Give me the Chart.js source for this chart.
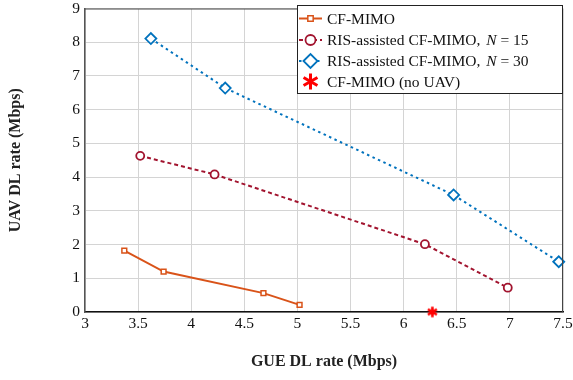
<!DOCTYPE html>
<html>
<head>
<meta charset="utf-8">
<script src="https://cdn.jsdelivr.net/npm/chart.js@4/dist/chart.umd.min.js"></script>
<style>
  html, body { margin: 0; padding: 0; background: #fff; }
  #wrap { width: 573px; height: 380px; position: relative; }
</style>
</head>
<body>
<div id="wrap"><canvas id="c" width="573" height="380"></canvas></div>
<script>
// ---- Data ----
const seriesNames = ['CF-MIMO', 'RIS-assisted CF-MIMO, N = 15', 'RIS-assisted CF-MIMO, N = 30', 'CF-MIMO (no UAV)'];
const cfX = [3.37, 3.74, 4.68, 5.02];
const cfY = [1.82, 1.20, 0.56, 0.21];
const ris15X = [3.52, 4.22, 6.20, 6.98];
const ris15Y = [4.63, 4.08, 2.01, 0.72];
const ris30X = [3.62, 4.32, 6.47, 7.46];
const ris30Y = [8.11, 6.64, 3.47, 1.49];
const noUavX = [6.27];
const noUavY = [0];
const xTicks = ['3', '3.5', '4', '4.5', '5', '5.5', '6', '6.5', '7', '7.5'];
const yTicks = ['0', '1', '2', '3', '4', '5', '6', '7', '8', '9'];

const ORANGE = '#D95319', DRED = '#A2142F', BLUE = '#0072BD', RED = '#FF0000';
const SERIF = '"Liberation Serif", "DejaVu Serif", serif';

function pts(xs, ys) { return xs.map((x, i) => ({ x: x, y: ys[i] })); }

// 6-armed asterisk marker image
function makeAsterisk(size, lw, color) {
  const cv = document.createElement('canvas');
  cv.width = size; cv.height = size;
  const g = cv.getContext('2d');
  const c = size / 2, r = size / 2 - lw / 2;
  g.strokeStyle = color; g.lineWidth = lw; g.lineCap = 'butt';
  g.beginPath();
  for (let k = 0; k < 3; k++) {
    const a = Math.PI / 2 + k * Math.PI / 3;
    g.moveTo(c + r * Math.cos(a), c - r * Math.sin(a));
    g.lineTo(c - r * Math.cos(a), c + r * Math.sin(a));
  }
  g.stroke();
  return cv;
}
const starPlot = makeAsterisk(13, 2.6, RED);
const starLegend = makeAsterisk(19, 3, RED);

const legendPlugin = {
  id: 'boxLegend',
  afterDraw(chart) {
    const ctx = chart.ctx;
    const ca = chart.chartArea;
    ctx.save();
    // top/right border of plot
    ctx.strokeStyle = '#444';
    ctx.lineWidth = 1;
    ctx.beginPath();
    ctx.moveTo(ca.left, ca.top + 0.5);
    ctx.lineTo(ca.right - 0.5, ca.top + 0.5);
    ctx.lineTo(ca.right - 0.5, ca.bottom);
    ctx.stroke();

    // legend box
    const bx = 297, by = 5, bw = 266, bh = 89;
    ctx.fillStyle = '#fff';
    ctx.fillRect(bx, by, bw, bh);
    ctx.strokeStyle = '#222';
    ctx.strokeRect(bx + 0.5, by + 0.5, bw - 1, bh - 1);

    const rowY = [18.5, 40, 61, 81.5];
    const ds = chart.data.datasets;
    for (let i = 0; i < ds.length; i++) {
      const d = ds[i];
      const y = rowY[i];
      ctx.save();
      ctx.strokeStyle = d.borderColor;
      ctx.lineWidth = 2;
      if (d.legendLine) {
        ctx.setLineDash(d.borderDash || []);
        ctx.beginPath();
        ctx.moveTo(299, y);
        ctx.lineTo(322, y);
        ctx.stroke();
        ctx.setLineDash([]);
      }
      ctx.fillStyle = '#fff';
      ctx.lineWidth = d.pointBorderWidth || 1.5;
      Chart.helpers.drawPoint(ctx, {
        pointStyle: d.legendStyle || d.pointStyle,
        rotation: 0,
        radius: d.legendRadius || d.pointRadius,
        borderWidth: d.pointBorderWidth
      }, 310.5, y);
      ctx.restore();

      ctx.fillStyle = '#111';
      ctx.textBaseline = 'middle';
      ctx.textAlign = 'left';
      ctx.font = '15.5px ' + SERIF;
      const label = seriesNames[i];
      const m = label.match(/^(.*, )N = (\d+)$/);
      let tx = 327;
      if (m) {
        ctx.fillText(m[1], tx, y + 1);
        tx += ctx.measureText(m[1]).width + 2;
        ctx.font = 'italic 15.5px ' + SERIF;
        ctx.fillText('N', tx, y + 1);
        tx += ctx.measureText('N').width + 4;
        ctx.font = '15.5px ' + SERIF;
        ctx.fillText('= ' + m[2], tx, y + 1);
      } else {
        ctx.fillText(label, tx, y + 1);
      }
    }
    ctx.restore();
  }
};

new Chart(document.getElementById('c'), {
  type: 'scatter',
  data: {
    datasets: [
      {
        label: seriesNames[0], data: pts(cfX, cfY), showLine: true,
        borderColor: ORANGE, backgroundColor: '#fff', borderWidth: 2,
        pointStyle: 'rect', pointRadius: 3.4, pointBorderWidth: 1.5, pointBackgroundColor: '#fff',
        pointBorderColor: ORANGE, legendLine: true, legendRadius: 3.8
      },
      {
        label: seriesNames[1], data: pts(ris15X, ris15Y), showLine: true,
        borderColor: DRED, backgroundColor: '#fff', borderWidth: 2, borderDash: [4, 3],
        pointStyle: 'circle', pointRadius: 4, pointBorderWidth: 1.8, pointBackgroundColor: '#fff',
        pointBorderColor: DRED, legendLine: true, legendRadius: 5
      },
      {
        label: seriesNames[2], data: pts(ris30X, ris30Y), showLine: true,
        borderColor: BLUE, backgroundColor: '#fff', borderWidth: 2, borderDash: [2.5, 3.5],
        pointStyle: 'rectRot', pointRadius: 5.5, pointBorderWidth: 1.8, pointBackgroundColor: '#fff',
        pointBorderColor: BLUE, legendLine: true, legendRadius: 7
      },
      {
        label: seriesNames[3], data: pts(noUavX, noUavY), showLine: false,
        borderColor: RED, backgroundColor: RED, borderWidth: 2.5,
        pointStyle: starPlot, pointRadius: 6, pointBorderWidth: 2.5,
        pointBorderColor: RED, legendLine: false, legendRadius: 8, legendStyle: starLegend
      }
    ]
  },
  options: {
    responsive: false,
    animation: false,
    clip: false,
    layout: { padding: { top: 6, right: 10, left: 0, bottom: 0 } },
    plugins: { legend: { display: false }, tooltip: { enabled: false } },
    elements: { line: { tension: 0 } },
    scales: {
      x: {
        type: 'linear', min: 3, max: 7.5,
        afterFit(s) { s.height = 68; s.paddingLeft = 0; s.paddingRight = 0; },
        afterBuildTicks(s) { s.ticks = xTicks.map(t => ({ value: parseFloat(t) })); },
        ticks: {
          color: '#111', font: { family: SERIF, size: 15.5 }, padding: 3,
          callback: (v, i) => xTicks[i]
        },
        grid: { color: '#d4d4d4', lineWidth: 1, drawTicks: false },
        border: { display: true, color: '#111', width: 1.5 },
        title: {
          display: true, text: 'GUE DL rate (Mbps)', color: '#222',
          font: { family: SERIF, size: 16, weight: 'bold' }, padding: { top: 0, bottom: 9 }
        }
      },
      y: {
        type: 'linear', min: 0, max: 9,
        afterFit(s) { s.width = 85; s.paddingTop = 0; s.paddingBottom = 0; },
        afterBuildTicks(s) { s.ticks = yTicks.map(t => ({ value: parseFloat(t) })); },
        ticks: {
          color: '#111', font: { family: SERIF, size: 15.5 }, padding: 5,
          callback: (v, i) => yTicks[i]
        },
        grid: { color: '#d4d4d4', lineWidth: 1, drawTicks: false },
        border: { display: true, color: '#555', width: 1.5 },
        title: {
          display: true, text: 'UAV DL rate (Mbps)', color: '#222',
          font: { family: SERIF, size: 16, weight: 'bold' }, padding: { top: 6, bottom: 0 }
        }
      }
    }
  },
  plugins: [legendPlugin]
});
</script>
</body>
</html>
